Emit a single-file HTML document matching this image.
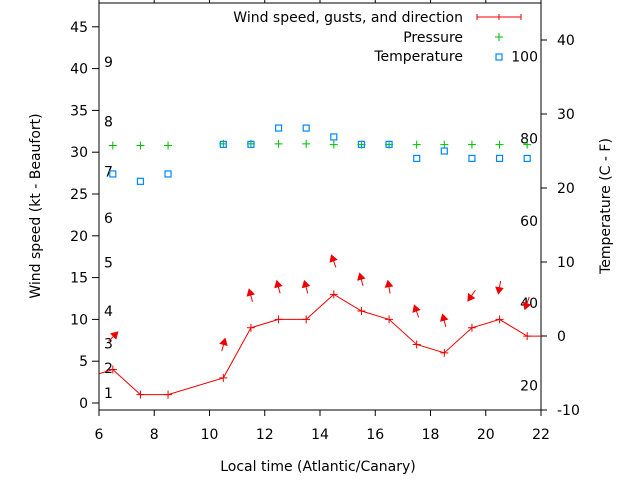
<!DOCTYPE html>
<html><head><meta charset="utf-8"><style>
html,body{margin:0;padding:0;background:#fff}
svg{display:block;font-family:"DejaVu Sans","Liberation Sans",sans-serif;font-size:14px}
</style></head><body>
<svg id="chart" width="640" height="480" viewBox="0 0 640 480" xmlns="http://www.w3.org/2000/svg">
<rect width="640" height="480" fill="#fff"/>
<g id="axes"></g>
<g id="marks"></g>
<text transform="translate(40,206) rotate(-90)" text-anchor="middle">Wind speed (kt - Beaufort)</text>
<text transform="translate(610,206) rotate(-90)" text-anchor="middle">Temperature (C - F)</text>
<text x="318" y="471" text-anchor="middle">Local time (Atlantic/Canary)</text>
<g>
<text x="463" y="22" text-anchor="end">Wind speed, gusts, and direction</text>
<path d="M477 17H521M477 14V20M499 14V20M521 14V20" stroke="#e00" fill="none"/>
<text x="463" y="42" text-anchor="end">Pressure</text>
<path d="M495 37H503M499 33V41" stroke="#0b0"/>
<text x="463" y="61" text-anchor="end">Temperature</text>
<rect x="496" y="54" width="6" height="6" fill="none" stroke="#08f" stroke-width="1.2"/>
</g>
</svg>
<script>
const hours = [5.5, 6.5, 7.5, 8.5, 10.5, 11.5, 12.5, 13.5, 14.5, 15.5, 16.5, 17.5, 18.5, 19.5, 20.5, 21.5, 22.5];
const windKt = [3, 4, 1, 1, 3, 9, 10, 10, 13, 11, 10, 7, 6, 9, 10, 8, 8];
const arrowHours = [6.5, 10.5, 11.5, 12.5, 13.5, 14.5, 15.5, 16.5, 17.5, 18.5, 19.5, 20.5, 21.5];
const gustKt = [7.9, 6.9, 12.8, 13.8, 13.8, 16.9, 14.7, 13.8, 10.9, 9.8, 12.9, 13.9, 12];
const dirDeg = [45, 15, -15, -15, -15, -20, -15, -10, -20, -15, 215, 190, 200];
const pHours = [6.5, 7.5, 8.5, 10.5, 11.5, 12.5, 13.5, 14.5, 15.5, 16.5, 17.5, 18.5, 19.5, 20.5, 21.5];
const pressure = [30.8, 30.8, 30.8, 31.0, 31.0, 31.0, 31.0, 30.9, 30.9, 30.9, 30.9, 30.9, 30.9, 30.9, 30.9];
const tempC = [21.9, 20.9, 21.9, 25.9, 25.9, 28.1, 28.1, 26.9, 25.9, 25.9, 24, 25, 24, 24, 24];
const xTicks = [6, 8, 10, 12, 14, 16, 18, 20, 22];
const yTicks = [0, 5, 10, 15, 20, 25, 30, 35, 40, 45];
const y2Ticks = [-10, 0, 10, 20, 30, 40];
const beaufort = [1, 2, 3, 4, 5, 6, 7, 8, 9];
const beaufortKt = [1.2, 4.2, 7.1, 11, 16.8, 22.1, 27.7, 33.7, 40.8];
const fTicks = [20, 40, 60, 80, 100];

const L=99,R=541,T=3,B=410;
const x = h => L + (h-6)*(R-L)/16;
const y = v => 403 - 8.36*v;
const y2 = c => 336 - 7.4*c;
const NS="http://www.w3.org/2000/svg";
function mk(tag, attrs, parent, txt){const e=document.createElementNS(NS,tag);for(const k in attrs)e.setAttribute(k,attrs[k]);if(txt!==undefined)e.textContent=txt;parent.appendChild(e);return e;}
const ax=document.getElementById('axes'), mg=document.getElementById('marks');
let e=mk('rect',{x:L,y:T,width:R-L,height:B-T,fill:'none',stroke:'#000'},ax);


xTicks.forEach(t=>{
  let l=mk('path',{d:`M${x(t)} ${B}v6M${x(t)} ${T}v-6`,stroke:'#000'},ax);
  
  
  let s=mk('text',{x:x(t),y:B+29,'text-anchor':'middle'},ax,t);
  
  
});
yTicks.forEach(t=>{
  let l=mk('path',{d:`M${L} ${y(t)}h-7`,stroke:'#000'},ax);
  
  
  let s=mk('text',{x:L-11,y:y(t)+5,'text-anchor':'end'},ax,t);
  
  
});
y2Ticks.forEach(t=>{
  let l=mk('path',{d:`M${R} ${y2(t)}h6`,stroke:'#000'},ax);
  
  
  let s=mk('text',{x:R+16,y:y2(t)+5},ax,t);
  
  
});
beaufort.forEach((b,i)=>{
  let s=mk('text',{x:104,y:y(beaufortKt[i])+5},ax,b);
  
  
});
fTicks.forEach(f=>{
  let s=mk('text',{x:538,y:y2((f-32)*5/9)+5,'text-anchor':'end'},ax,f);
  
  
});
const cp=mk('clipPath',{id:'clip'},mg);
mk('rect',{x:L,y:T,width:R-L,height:B-T},cp);
const g=mk('g',{'clip-path':'url(#clip)'},mg);
let pl=mk('polyline',{points:hours.map((h,i)=>`${x(h)},${y(windKt[i])}`).join(' '),fill:'none',stroke:'#e00','stroke-width':1},g);


hours.forEach((h,i)=>{
  let p=mk('path',{d:`M${x(h)-4} ${y(windKt[i])}h8M${x(h)} ${y(windKt[i])-4}v8`,stroke:'#e00'},g);
  
  
});
arrowHours.forEach((h,i)=>{
  const cx=x(h),cy=y(gustKt[i]),a=dirDeg[i]*Math.PI/180,dx=Math.sin(a),dy=-Math.cos(a),len=6;
  const hx=cx+dx*len,hy=cy+dy*len,tx=cx-dx*len,ty=cy-dy*len;
  const px=-dy,py=dx;
  let a1=mk('g',{},g);
  
  
  mk('line',{x1:tx,y1:ty,x2:hx,y2:hy,stroke:'#e00'},a1);
  mk('polygon',{points:`${hx+dx*1},${hy+dy*1} ${hx-dx*5+px*3.5},${hy-dy*5+py*3.5} ${hx-dx*5-px*3.5},${hy-dy*5-py*3.5}`,fill:'#e00',stroke:'#e00'},a1);
});
pHours.forEach((h,i)=>{
  let p=mk('path',{d:`M${x(h)-4} ${y(pressure[i])}h8M${x(h)} ${y(pressure[i])-4}v8`,stroke:'#0b0'},g);
  
  
});
pHours.forEach((h,i)=>{
  let r=mk('rect',{x:x(h)-3,y:y2(tempC[i])-3,width:6,height:6,fill:'none',stroke:'#08f','stroke-width':1.2},g);
  
  
});
</script>
</body></html>
